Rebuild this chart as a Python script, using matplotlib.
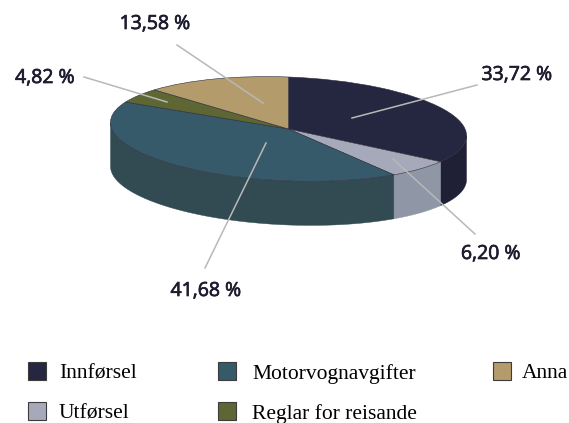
import matplotlib
matplotlib.use('Agg')
import numpy as np
import matplotlib.pyplot as plt
import matplotlib.patheffects as pe
from matplotlib.patches import Rectangle, Polygon
from matplotlib.transforms import Affine2D

# data
categories = ['Innførsel', 'Utførsel', 'Motorvognavgifter', 'Reglar for reisande', 'Anna']
shares = [33.72, 6.20, 41.68, 4.82, 13.58]
top_colors = ['#252640', '#a6a9ba', '#375a6b', '#5e6733', '#b39b6c']
side_colors = ['#1f1f35', '#8f96a6', '#324b52', '#4c5329', '#8f7c56']

# pie geometry in pixels, tilt = slope of the long axis
cx, cy, rx, ry, depth = 288.5, 129, 178, 52, 44
tilt = 0.037

fig = plt.figure(figsize=(5.69, 4.23), dpi=100)

#----- pie, unit circle squeezed to an ellipse
ax = fig.add_axes([0, 0, 1, 1])
wedges, _ = ax.pie(shares, colors=top_colors, startangle=90, counterclock=False, radius=1,
                   wedgeprops=dict(edgecolor='#2b2b3a', linewidth=0.4), frame=True, normalize=True)
ax.set_aspect('auto')
ax.set_xlim(-cx/rx, (569-cx)/rx)
ax.set_ylim((cy-423)/ry, cy/ry)
ax.axis('off')

sk = Affine2D(np.array([[1, 0, 0], [-tilt*rx/ry, 1, 0], [0, 0, 1]], dtype=float))
for w in wedges:
    w.set_transform(sk + ax.transData)

# side wall, only the front half shows
d = depth/ry
edges = np.cumsum([0]+shares)/100*360
for i in range(len(shares)):
    t0, t1 = max(edges[i], 90), min(edges[i+1], 270)
    if t1 <= t0:
        continue
    t = np.radians(np.linspace(t0, t1, 80))
    x = np.sin(t)
    y = np.cos(t)
    pts = np.column_stack([np.r_[x, x[::-1]], np.r_[y, y[::-1]-d]])
    ax.add_patch(Polygon(pts, closed=True, facecolor=side_colors[i], edgecolor=side_colors[i],
                         linewidth=0.3, zorder=0.5, transform=sk + ax.transData))

#----- overlay in pixel coords for labels and legend
ov = fig.add_axes([0, 0, 1, 1])
ov.set_xlim(0, 569)
ov.set_ylim(423, 0)
ov.axis('off')
ov.patch.set_alpha(0)

label_xy = [(517, 75), (491, 254), (206, 291), (45, 78), (155, 24)]
line_in = [(352, 118), (393, 159), (266, 143), (167, 102), (263, 103)]
line_out = [(477, 85), (475, 234), (205, 268), (84, 77), (177, 45)]

for i in range(len(shares)):
    ov.plot([line_in[i][0], line_out[i][0]], [line_in[i][1], line_out[i][1]],
            color='#b8b8b8', linewidth=1.1)
    txt = ('%.2f %%' % shares[i]).replace('.', ',')
    ov.text(label_xy[i][0], label_xy[i][1], txt, ha='center', va='center',
            fontsize=14, family='Open Sans', color='#1c1c2e',
            path_effects=[pe.withStroke(linewidth=0.5, foreground='#1c1c2e')])

box_xy = [(28, 362), (28, 402), (218, 362), (218, 402), (493, 362)]
text_x = [59, 59, 252, 252, 522]
for i in range(len(categories)):
    bx, by = box_xy[i]
    ov.add_patch(Rectangle((bx, by), 18, 18, facecolor=top_colors[i],
                           edgecolor='#3c3c3c', linewidth=0.8))
    ov.text(text_x[i], by+12, categories[i], ha='left', va='center',
            fontsize=15.5, family='Liberation Serif', color='black')

plt.savefig('out.png', dpi=100)
